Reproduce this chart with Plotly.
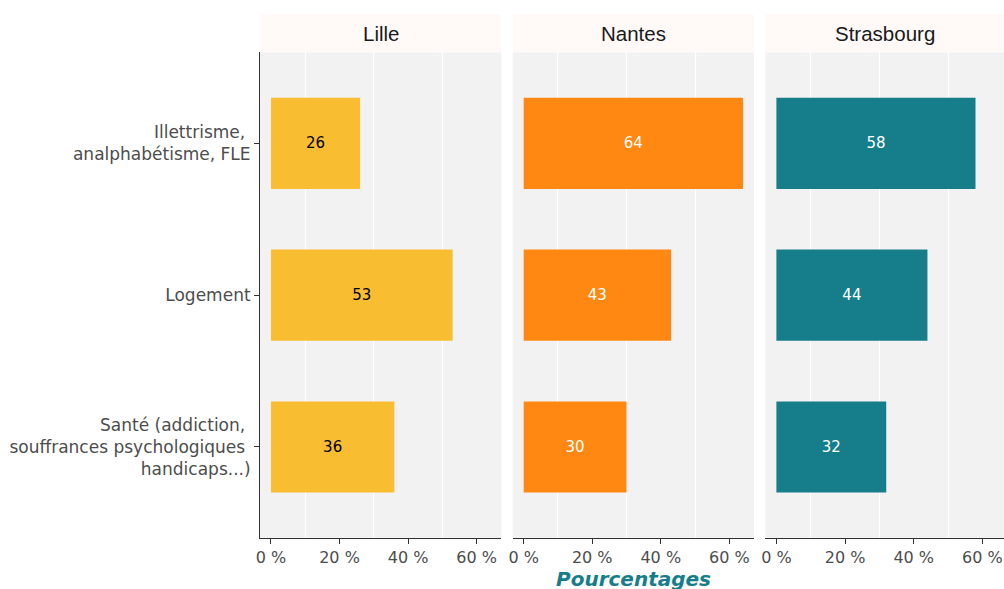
import plotly.graph_objects as go

# ---- data ----
cities = ["Lille", "Nantes", "Strasbourg"]
categories = [
    "Illettrisme, <br>analphabétisme, FLE",
    "Logement",
    "Santé (addiction, <br>souffrances psychologiques <br>handicaps...)",
]
values = {
    "Lille": [26, 53, 36],
    "Nantes": [64, 43, 30],
    "Strasbourg": [58, 44, 32],
}
x_ticks = [0, 20, 40, 60]
x_tick_labels = ["0 %", "20 %", "40 %", "60 %"]
x_minor = [10, 30, 50]

colors = {"Lille": "#F9BD32", "Nantes": "#FE8812", "Strasbourg": "#167E8A"}
text_colors = {"Lille": "#000000", "Nantes": "#FFFFFF", "Strasbourg": "#FFFFFF"}

W, H = 1004, 589
# panel pixel extents
panels_px = {"Lille": (260, 501.3), "Nantes": (512.7, 754), "Strasbourg": (765.4, 1004)}
ranges = {"Lille": [-3.2, 67.2], "Nantes": [-3.2, 67.2], "Strasbourg": [-3.2, 66.3]}
top_px, bottom_px, strip_top_px = 52.3, 538, 14.5
ydom = [(H - bottom_px) / H, (H - top_px) / H]

fig = go.Figure()
for i, c in enumerate(cities):
    xa = "x" if i == 0 else f"x{i+1}"
    fig.add_trace(go.Bar(
        x=values[c], y=categories, orientation="h",
        marker=dict(color=colors[c], line=dict(width=0)),
        width=0.6,
        text=[str(v) for v in values[c]],
        textposition="inside", insidetextanchor="middle", textangle=0,
        textfont=dict(color=text_colors[c], size=15, family="DejaVu Sans"),
        xaxis=xa, yaxis="y", showlegend=False, hoverinfo="skip",
    ))

layout = dict(
    width=W, height=H,
    margin=dict(l=0, r=0, t=0, b=0),
    paper_bgcolor="white",
    plot_bgcolor="#F2F2F2",
    font=dict(family="DejaVu Sans", color="#4D4D4D"),
    shapes=[],
    annotations=[],
)

for i, c in enumerate(cities):
    key = "xaxis" if i == 0 else f"xaxis{i+1}"
    x0, x1 = panels_px[c]
    layout[key] = dict(
        domain=[x0 / W, min(x1 / W, 1.0)],
        range=ranges[c],
        anchor="y",
        tickmode="array", tickvals=x_ticks, ticktext=x_tick_labels,
        showgrid=False, zeroline=False,
        showline=True, linecolor="#333333", linewidth=1,
        ticks="outside", ticklen=5, tickcolor="#333333", tickwidth=1,
        tickfont=dict(size=16, color="#4D4D4D", family="DejaVu Sans"),
        minor=dict(tickvals=x_minor, showgrid=True, gridcolor="#FFFFFF", gridwidth=1, ticks=""),
        automargin=False, fixedrange=True,
    )
    # strip
    layout["shapes"].append(dict(
        type="rect", xref="paper", yref="paper",
        x0=x0 / W, x1=min(x1 / W, 1.0),
        y0=(H - top_px) / H, y1=(H - strip_top_px) / H,
        fillcolor="#FFF9F8", line=dict(width=0), layer="below",
    ))
    layout["annotations"].append(dict(
        text=c, xref="paper", yref="paper",
        x=(x0 + x1) / 2 / W, y=(H - (top_px + strip_top_px) / 2) / H,
        xanchor="center", yanchor="middle", showarrow=False,
        font=dict(family="Liberation Sans", size=20.5, color="#1A1A1A"),
    ))

layout["yaxis"] = dict(
    domain=ydom,
    anchor="x",
    type="category",
    categoryorder="array", categoryarray=categories[::-1],
    range=[-0.6, 2.6],
    showgrid=False, zeroline=False,
    showline=True, linecolor="#333333", linewidth=1,
    ticks="outside", ticklen=5, tickcolor="#333333",
    tickfont=dict(size=17, color="#4D4D4D", family="DejaVu Sans"),
    automargin=False, fixedrange=True,
)

layout["annotations"].append(dict(
    text="<b><i>Pourcentages</i></b>", xref="paper", yref="paper",
    x=633 / W, y=(H - 578.5) / H, xanchor="center", yanchor="middle",
    showarrow=False,
    font=dict(family="DejaVu Sans", size=20, color="#167E8A"),
))

fig.update_layout(**layout)
fig.write_html("out.html")
